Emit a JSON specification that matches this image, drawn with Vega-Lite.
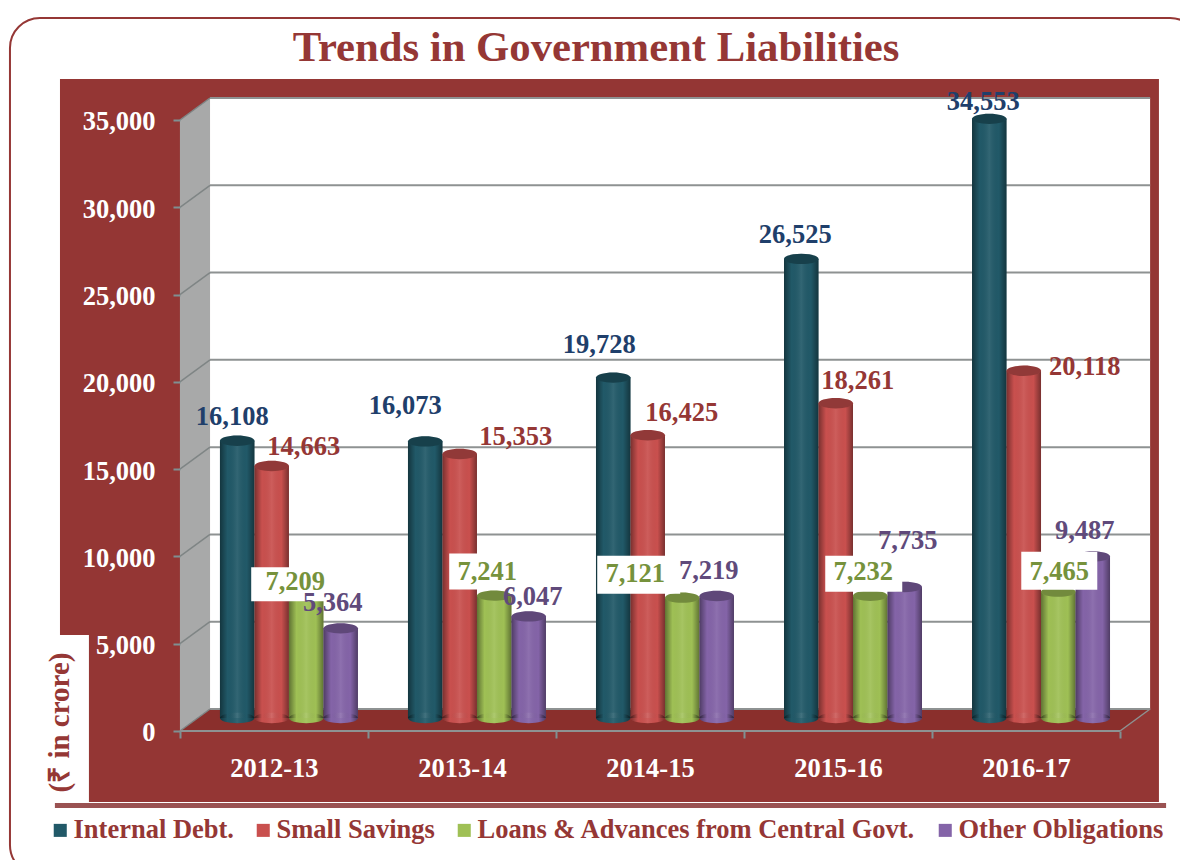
{"$schema":"https://vega.github.io/schema/vega-lite/v6.json","width":1180,"height":860,"autosize":{"type":"none"},"padding":0,"background":"white","view":{"stroke":null},
"title":{"text":"Trends in Government Liabilities","frame":"group","anchor":"middle","orient":"top","dx":6,"offset":-70,"fontSize":42.7,"font":"Liberation Serif","fontWeight":"bold","color":"#953735"},
"data":{"values":[
{"year":"2012-13","series":"Internal Debt.","value":16108},{"year":"2012-13","series":"Small Savings","value":14663},{"year":"2012-13","series":"Loans & Advances from Central Govt.","value":7209},{"year":"2012-13","series":"Other Obligations","value":5364},
{"year":"2013-14","series":"Internal Debt.","value":16073},{"year":"2013-14","series":"Small Savings","value":15353},{"year":"2013-14","series":"Loans & Advances from Central Govt.","value":7241},{"year":"2013-14","series":"Other Obligations","value":6047},
{"year":"2014-15","series":"Internal Debt.","value":19728},{"year":"2014-15","series":"Small Savings","value":16425},{"year":"2014-15","series":"Loans & Advances from Central Govt.","value":7121},{"year":"2014-15","series":"Other Obligations","value":7219},
{"year":"2015-16","series":"Internal Debt.","value":26525},{"year":"2015-16","series":"Small Savings","value":18261},{"year":"2015-16","series":"Loans & Advances from Central Govt.","value":7232},{"year":"2015-16","series":"Other Obligations","value":7735},
{"year":"2016-17","series":"Internal Debt.","value":34553},{"year":"2016-17","series":"Small Savings","value":20118},{"year":"2016-17","series":"Loans & Advances from Central Govt.","value":7465},{"year":"2016-17","series":"Other Obligations","value":9487}]},
"resolve":{"scale":{"x":"independent"}},
"layer":[
{"layer":[
{"data":{"values":[{"part":"frame"}]},"mark":{"type":"rect","fillOpacity":0,"stroke":"#953735","strokeWidth":2,"cornerRadius":30},"encoding":{"x":{"datum":-0.904,"type":"quantitative","scale":{"domain":[-0.957,5.319],"nice":false,"zero":false},"axis":null},"x2":{"datum":5.426},"y":{"datum":40843,"type":"quantitative","scale":{"domain":[-7390,41874],"nice":false,"zero":false}},"y2":{"datum":-8249}}},
{"data":{"values":[{"part":"shadow"}]},"mark":{"type":"rect","fill":"#8f3f3f","opacity":0.9},"encoding":{"x":{"datum":-0.665,"type":"quantitative","axis":null},"x2":{"datum":5.245},"y":{"datum":-4130,"type":"quantitative"},"y2":{"datum":-4410}}},
{"data":{"values":[{"part":"panel"}]},"mark":{"type":"rect","fill":"#943634"},"encoding":{"x":{"datum":-0.638,"type":"quantitative","axis":null},"x2":{"datum":5.207},"y":{"datum":37349,"type":"quantitative"},"y2":{"datum":-4067}}},
{"data":{"values":[{"part":"cut"}]},"mark":{"type":"rect","fill":"white"},"encoding":{"x":{"datum":-0.645,"type":"quantitative","axis":null},"x2":{"datum":-0.484},"y":{"datum":5499,"type":"quantitative"},"y2":{"datum":-4080}}},
{"data":{"values":[{"part":"wall"}]},"mark":{"type":"rect","fill":"white"},"encoding":{"x":{"datum":0.16,"type":"quantitative","axis":null},"x2":{"datum":5.16},"y":{"datum":36260,"type":"quantitative"},"y2":{"datum":1260}}},
{"data":{"values":[{"depth":0,"top":35000,"bottom":0},{"depth":0.16,"top":36260,"bottom":1260}]},"mark":{"type":"area","fill":"#a8a9a9"},"encoding":{"x":{"field":"depth","type":"quantitative","axis":null},"y":{"field":"top","type":"quantitative"},"y2":{"field":"bottom"}}},
{"data":{"values":[{"depth":0,"top":0,"bottom":0},{"depth":0.16,"top":1260,"bottom":0},{"depth":5,"top":1260,"bottom":0},{"depth":5.16,"top":1260,"bottom":1260}]},"mark":{"type":"area","fill":"#8a2f2c"},"encoding":{"x":{"field":"depth","type":"quantitative","axis":null},"y":{"field":"top","type":"quantitative"},"y2":{"field":"bottom"}}},
{"data":{"values":[{"level":0,"back":1260},{"level":5000,"back":6260},{"level":10000,"back":11260},{"level":15000,"back":16260},{"level":20000,"back":21260},{"level":25000,"back":26260},{"level":30000,"back":31260},{"level":35000,"back":36260}]},"layer":[
{"mark":{"type":"rule","color":"#8e9292","strokeWidth":2},"encoding":{"x":{"datum":0.16,"type":"quantitative","axis":null},"x2":{"datum":5.16},"y":{"field":"back","type":"quantitative"}}},
{"mark":{"type":"rule","color":"#7f8585","strokeWidth":1.5},"encoding":{"x":{"datum":0,"type":"quantitative","axis":null},"x2":{"datum":0.16},"y":{"field":"level","type":"quantitative"},"y2":{"field":"back"}}}]},
{"data":{"values":[{"part":"floor edge"}]},"mark":{"type":"rule","color":"#8e9292","strokeWidth":2},"encoding":{"x":{"datum":0,"type":"quantitative","axis":null},"x2":{"datum":5},"y":{"datum":0,"type":"quantitative"}}},
{"data":{"values":[{"part":"floor side"}]},"mark":{"type":"rule","color":"#8e9292","strokeWidth":1.5},"encoding":{"x":{"datum":5,"type":"quantitative","axis":null},"x2":{"datum":5.16},"y":{"datum":0,"type":"quantitative"},"y2":{"datum":1260}}}
]},
{"encoding":{"x":{"field":"year","type":"nominal","title":null,"scale":{"domain":["2012-13","2013-14","2014-15","2015-16","2016-17"],"paddingInner":0,"paddingOuter":0.638,"align":0.75},"axis":{"orient":"bottom","offset":-129,"zindex":1,"domain":false,"tickBand":"extent","tickColor":"#7f9092","tickWidth":2,"tickSize":7,"labelAngle":0,"labelColor":"white","labelFont":"Liberation Serif","labelFontWeight":"bold","labelFontSize":26.5,"labelPadding":17}},"xOffset":{"field":"series","scale":{"domain":["Internal Debt.","Small Savings","Loans & Advances from Central Govt.","Other Obligations"],"paddingInner":0,"paddingOuter":0.725,"align":0.8}}},
"layer":[
{"mark":{"type":"point","filled":true,"opacity":1,"shape":"M-1,0 A1,0.3 0 1,0 1,0 A1,0.3 0 1,0 -1,0 Z","size":1190,"yOffset":-13},"encoding":{"y":{"datum":0,"type":"quantitative"},"color":{"field":"series"}}},
{"mark":{"type":"bar","yOffset":-9,"y2Offset":-13},"encoding":{"y":{"field":"value","type":"quantitative","title":"(₹ in crore)","axis":{"values":[0,5000,10000,15000,20000,25000,30000,35000],"labelExpr":"format(datum.value, ',')","labelOffset":2,"orient":"left","offset":-180,"zindex":1,"grid":false,"domain":false,"tickColor":"#7f9092","tickWidth":2,"tickSize":7,"labelColor":"white","labelFont":"Liberation Serif","labelFontWeight":"bold","labelFontSize":26.5,"labelPadding":18,"title":"(₹ in crore)","titleX":-121,"titleY":722,"titleAngle":-90,"titleAlign":"center","titleBaseline":"middle","titleColor":"#953735","titleFont":"Liberation Serif","titleFontWeight":"bold","titleFontSize":29}},"y2":{"datum":0},"color":{"field":"series","type":"nominal","scale":{"domain":["Internal Debt.","Small Savings","Loans & Advances from Central Govt.","Other Obligations"],"range":["#215968","#C9504E","#9FC055","#8464A8"]},"legend":{"orient":"none","legendX":47,"legendY":817,"direction":"horizontal","columns":4,"title":null,"symbolType":"square","symbolSize":170,"symbolStrokeWidth":0,"columnPadding":16,"labelFont":"Liberation Serif","labelFontWeight":"bold","labelFontSize":26.5,"labelColor":"#953735","labelLimit":600,"labelOffset":0}}}},
{"mark":{"type":"bar","yOffset":-9,"y2Offset":-13,"fill":{"gradient":"linear","x1":0,"x2":1,"y1":0,"y2":0,"stops":[{"offset":0,"color":"rgba(0,0,0,0.4)"},{"offset":0.22,"color":"rgba(0,0,0,0)"},{"offset":0.5,"color":"rgba(255,255,255,0.08)"},{"offset":0.78,"color":"rgba(0,0,0,0)"},{"offset":1,"color":"rgba(0,0,0,0.4)"}]}},"encoding":{"y":{"field":"value","type":"quantitative"},"y2":{"datum":0}}},
{"mark":{"type":"point","filled":true,"opacity":1,"shape":"M-1,0 A1,0.3 0 1,0 1,0 A1,0.3 0 1,0 -1,0 Z","size":1190,"yOffset":-13,"fill":{"gradient":"linear","x1":0,"x2":1,"y1":0,"y2":0,"stops":[{"offset":0,"color":"rgba(0,0,0,0.4)"},{"offset":0.22,"color":"rgba(0,0,0,0)"},{"offset":0.5,"color":"rgba(255,255,255,0.08)"},{"offset":0.78,"color":"rgba(0,0,0,0)"},{"offset":1,"color":"rgba(0,0,0,0.4)"}]}},"encoding":{"y":{"datum":0,"type":"quantitative"}}},
{"mark":{"type":"point","filled":true,"opacity":1,"shape":"M-1,0 A1,0.3 0 1,0 1,0 A1,0.3 0 1,0 -1,0 Z","size":1190,"yOffset":-9},"encoding":{"y":{"field":"value","type":"quantitative"},"color":{"field":"series"}}},
{"mark":{"type":"point","filled":true,"opacity":0.28,"color":"black","shape":"M-1,0 A1,0.3 0 1,0 1,0 A1,0.3 0 1,0 -1,0 Z","size":1190,"yOffset":-9},"encoding":{"y":{"field":"value","type":"quantitative"}}},
{"encoding":{"y":{"field":"value","type":"quantitative"}},"layer":[
{"transform":[{"filter":"datum.value===7209"}],"mark":{"type":"point","filled":true,"opacity":1,"color":"white","shape":"M-2.75,-0.85 H1.35 V0.85 H-2.75 Z","size":1600,"yOffset":-21}},
{"transform":[{"filter":"datum.value===7241"}],"mark":{"type":"point","filled":true,"opacity":1,"color":"white","shape":"M-2.25,-0.9 H1.85 V0.9 H-2.25 Z","size":1600,"yOffset":-33}},
{"transform":[{"filter":"datum.value===7121"}],"mark":{"type":"point","filled":true,"opacity":1,"color":"white","shape":"M-4.25,-0.95 H-0.1 V0.95 H-4.25 Z","size":1600,"yOffset":-32}},
{"transform":[{"filter":"datum.value===7232"}],"mark":{"type":"point","filled":true,"opacity":1,"color":"white","shape":"M-2.25,-0.9 H1.6 V0.9 H-2.25 Z","size":1600,"yOffset":-31}},
{"transform":[{"filter":"datum.value===7465"}],"mark":{"type":"point","filled":true,"opacity":1,"color":"white","shape":"M-1.85,-0.95 H1.95 V0.95 H-1.85 Z","size":1600,"yOffset":-30}}
]},
{"encoding":{"y":{"field":"value","type":"quantitative"},"text":{"field":"value","type":"quantitative","format":","}},"layer":[
{"transform":[{"filter":"datum.value===16108"}],"mark":{"type":"text","dx":-5,"dy":-33,"color":"#1F3F6B","font":"Liberation Serif","fontWeight":"bold","fontSize":26.5}},
{"transform":[{"filter":"datum.value===16073"}],"mark":{"type":"text","dx":-20,"dy":-44,"color":"#1F3F6B","font":"Liberation Serif","fontWeight":"bold","fontSize":26.5}},
{"transform":[{"filter":"datum.value===19728"}],"mark":{"type":"text","dx":-14,"dy":-42,"color":"#1F3F6B","font":"Liberation Serif","fontWeight":"bold","fontSize":26.5}},
{"transform":[{"filter":"datum.value===26525"}],"mark":{"type":"text","dx":-6,"dy":-33,"color":"#1F3F6B","font":"Liberation Serif","fontWeight":"bold","fontSize":26.5}},
{"transform":[{"filter":"datum.value===34553"}],"mark":{"type":"text","dx":-6,"dy":-26,"color":"#1F3F6B","font":"Liberation Serif","fontWeight":"bold","fontSize":26.5}},
{"transform":[{"filter":"datum.value===14663"}],"mark":{"type":"text","dx":32,"dy":-28,"color":"#953735","font":"Liberation Serif","fontWeight":"bold","fontSize":26.5}},
{"transform":[{"filter":"datum.value===15353"}],"mark":{"type":"text","dx":56,"dy":-26,"color":"#953735","font":"Liberation Serif","fontWeight":"bold","fontSize":26.5}},
{"transform":[{"filter":"datum.value===16425"}],"mark":{"type":"text","dx":34,"dy":-31,"color":"#953735","font":"Liberation Serif","fontWeight":"bold","fontSize":26.5}},
{"transform":[{"filter":"datum.value===18261"}],"mark":{"type":"text","dx":22,"dy":-31,"color":"#953735","font":"Liberation Serif","fontWeight":"bold","fontSize":26.5}},
{"transform":[{"filter":"datum.value===20118"}],"mark":{"type":"text","dx":61,"dy":-13,"color":"#953735","font":"Liberation Serif","fontWeight":"bold","fontSize":26.5}},
{"transform":[{"filter":"datum.value===7209"}],"mark":{"type":"text","dx":-11,"dy":-23,"color":"#76923C","font":"Liberation Serif","fontWeight":"bold","fontSize":26.5}},
{"transform":[{"filter":"datum.value===7241"}],"mark":{"type":"text","dx":-7,"dy":-33,"color":"#76923C","font":"Liberation Serif","fontWeight":"bold","fontSize":26.5}},
{"transform":[{"filter":"datum.value===7121"}],"mark":{"type":"text","dx":-47,"dy":-33,"color":"#76923C","font":"Liberation Serif","fontWeight":"bold","fontSize":26.5}},
{"transform":[{"filter":"datum.value===7232"}],"mark":{"type":"text","dx":-7,"dy":-33,"color":"#76923C","font":"Liberation Serif","fontWeight":"bold","fontSize":26.5}},
{"transform":[{"filter":"datum.value===7465"}],"mark":{"type":"text","dx":1,"dy":-29,"color":"#76923C","font":"Liberation Serif","fontWeight":"bold","fontSize":26.5}},
{"transform":[{"filter":"datum.value===5364"}],"mark":{"type":"text","dx":-8,"dy":-34,"color":"#604A7B","font":"Liberation Serif","fontWeight":"bold","fontSize":26.5}},
{"transform":[{"filter":"datum.value===6047"}],"mark":{"type":"text","dx":4,"dy":-28,"color":"#604A7B","font":"Liberation Serif","fontWeight":"bold","fontSize":26.5}},
{"transform":[{"filter":"datum.value===7219"}],"mark":{"type":"text","dx":-8,"dy":-34,"color":"#604A7B","font":"Liberation Serif","fontWeight":"bold","fontSize":26.5}},
{"transform":[{"filter":"datum.value===7735"}],"mark":{"type":"text","dx":3,"dy":-55,"color":"#604A7B","font":"Liberation Serif","fontWeight":"bold","fontSize":26.5}},
{"transform":[{"filter":"datum.value===9487"}],"mark":{"type":"text","dx":-8,"dy":-34,"color":"#604A7B","font":"Liberation Serif","fontWeight":"bold","fontSize":26.5}}
]}
]}
]}
